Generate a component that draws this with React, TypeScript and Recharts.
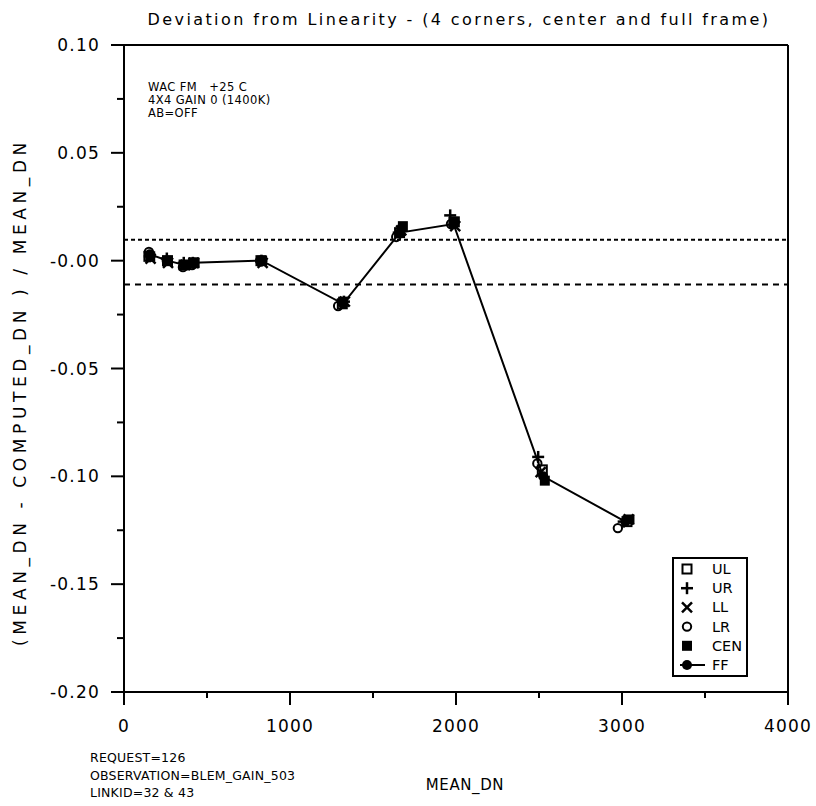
import React from 'react';
import { ScatterChart, Scatter, XAxis, YAxis, ReferenceLine } from 'recharts';

// ---- data ----
const xTicks = [0, 500, 1000, 1500, 2000, 2500, 3000, 3500, 4000];
const xMajorTicks = [0, 1000, 2000, 3000, 4000];
const xTickLabels = ['0', '1000', '2000', '3000', '4000'];
const yTicks = [0.1, 0.075, 0.05, 0.025, 0, -0.025, -0.05, -0.075, -0.1, -0.125, -0.15, -0.175, -0.2];
const yMajorTicks = [0.1, 0.05, 0, -0.05, -0.1, -0.15, -0.2];
const yTickLabels = ['0.10', '0.05', '-0.00', '-0.05', '-0.10', '-0.15', '-0.20'];

const ulX = [150, 262, 362, 420, 825, 1315, 1660, 1990, 2520, 3030];
const ulY = [0.002, 0.0, -0.002, -0.001, 0.0, -0.02, 0.013, 0.018, -0.097, -0.121];
const urX = [155, 258, 360, 415, 828, 1325, 1655, 1965, 2495, 3010];
const urY = [0.002, 0.001, -0.001, -0.001, 0.0, -0.019, 0.013, 0.021, -0.091, -0.121];
const llX = [160, 265, 370, 420, 835, 1330, 1670, 1995, 2510, 3040];
const llY = [0.001, -0.001, -0.002, -0.001, -0.001, -0.019, 0.014, 0.016, -0.098, -0.12];
const lrX = [150, 258, 355, 410, 820, 1290, 1640, 1970, 2490, 2975];
const lrY = [0.004, 0.0, -0.003, -0.002, 0.0, -0.021, 0.011, 0.017, -0.094, -0.124];
const cenX = [158, 263, 368, 425, 832, 1320, 1680, 1985, 2535, 3045];
const cenY = [0.002, 0.0, -0.002, -0.001, 0.0, -0.019, 0.016, 0.018, -0.102, -0.12];
const ffX = [155, 262, 365, 418, 830, 1320, 1662, 1985, 2525, 3020];
const ffY = [0.003, 0.0, -0.002, -0.001, 0.0, -0.02, 0.013, 0.017, -0.1, -0.121];

const upperLimit = 0.0097;
const lowerLimit = -0.011;

const titleText = 'Deviation from Linearity - (4 corners, center and full frame)';
const xLabel = 'MEAN_DN';
const yLabel = '(MEAN_DN - COMPUTED_DN ) / MEAN_DN';
const noteLines = ['WAC FM   +25 C', '4X4 GAIN 0 (1400K)', 'AB=OFF'];
const footLines = ['REQUEST=126', 'OBSERVATION=BLEM_GAIN_503', 'LINKID=32 & 43'];
const legendNames = ['UL', 'UR', 'LL', 'LR', 'CEN', 'FF'];

const zip = (xs: number[], ys: number[]) => xs.map((x, i) => ({ x, y: ys[i] }));

const FONT = '"DejaVu Sans", Verdana, sans-serif';

// ---- shapes ----
const OpenSquare = ({ cx, cy }: any) => (
  <rect x={cx - 4.5} y={cy - 4.5} width={9} height={9} fill="none" stroke="#000" strokeWidth={2} />
);
const Plus = ({ cx, cy }: any) => (
  <g stroke="#000" strokeWidth={2.5}>
    <line x1={cx - 6} x2={cx + 6} y1={cy} y2={cy} />
    <line x1={cx} x2={cx} y1={cy - 6} y2={cy + 6} />
  </g>
);
const Cross = ({ cx, cy }: any) => (
  <g stroke="#000" strokeWidth={2.5}>
    <line x1={cx - 5} x2={cx + 5} y1={cy - 5} y2={cy + 5} />
    <line x1={cx - 5} x2={cx + 5} y1={cy + 5} y2={cy - 5} />
  </g>
);
const OpenCircle = ({ cx, cy }: any) => (
  <circle cx={cx} cy={cy} r={4.2} fill="none" stroke="#000" strokeWidth={2} />
);
const FilledSquare = ({ cx, cy }: any) => (
  <rect x={cx - 5} y={cy - 5} width={10} height={10} fill="#000" />
);
const FilledCircle = ({ cx, cy }: any) => <circle cx={cx} cy={cy} r={5} fill="#000" />;

const YTick = ({ x, y, payload }: any) => {
  const i = yMajorTicks.findIndex((v) => Math.abs(v - payload.value) < 1e-9);
  const major = i >= 0;
  return (
    <g>
      <line x1={x - (major ? 13 : 7)} x2={x} y1={y} y2={y} stroke="#000" strokeWidth={2} />
      {major && (
        <text x={x - 24} y={y} textAnchor="end" dominantBaseline="central" fontFamily={FONT} fontSize={17} letterSpacing={1.2} fill="#000">
          {yTickLabels[i]}
        </text>
      )}
    </g>
  );
};

const XTick = ({ x, y, payload }: any) => {
  const i = xMajorTicks.findIndex((v) => Math.abs(v - payload.value) < 1e-9);
  const major = i >= 0;
  return (
    <g>
      <line x1={x} x2={x} y1={y} y2={y + (major ? 13 : 6)} stroke="#000" strokeWidth={2} />
      {major && (
        <text x={x} y={y + 40} textAnchor="middle" fontFamily={FONT} fontSize={17} letterSpacing={1.2} fill="#000">
          {xTickLabels[i]}
        </text>
      )}
    </g>
  );
};

const legendShapes = [OpenSquare, Plus, Cross, OpenCircle, FilledSquare, FilledCircle];

export default function App() {
  const W = 808;
  const H = 798;
  return (
    <div style={{ position: 'relative', width: 816, height: 806, boxSizing: 'border-box', paddingLeft: 8, paddingTop: 8 }}>
      <style>{'body{margin:0;}'}</style>
      <ScatterChart width={W} height={H} margin={{ top: 37, right: 28, bottom: 74, left: 36 }}>
        <XAxis
          type="number"
          dataKey="x"
          domain={[0, 4000]}
          ticks={xTicks}
          interval={0}
          allowDataOverflow
          height={40}
          tickSize={0}
          tickMargin={0}
          tickLine={false}
          axisLine={{ stroke: '#000', strokeWidth: 2 }}
          tick={<XTick />}
        />
        <YAxis
          type="number"
          dataKey="y"
          domain={[-0.2, 0.1]}
          ticks={yTicks}
          interval={0}
          allowDataOverflow
          width={80}
          tickSize={0}
          tickMargin={0}
          tickLine={false}
          axisLine={{ stroke: '#000', strokeWidth: 2 }}
          tick={<YTick />}
        />
        <ReferenceLine y={0.1} stroke="#000" strokeWidth={2} />
        <ReferenceLine x={4000} stroke="#000" strokeWidth={2} />
        <ReferenceLine y={upperLimit} stroke="#000" strokeWidth={2} strokeDasharray="4 3" />
        <ReferenceLine y={lowerLimit} stroke="#000" strokeWidth={2} strokeDasharray="6 5" />
        <Scatter data={zip(ulX, ulY)} shape={OpenSquare} isAnimationActive={false} />
        <Scatter data={zip(urX, urY)} shape={Plus} isAnimationActive={false} />
        <Scatter data={zip(llX, llY)} shape={Cross} isAnimationActive={false} />
        <Scatter data={zip(lrX, lrY)} shape={OpenCircle} isAnimationActive={false} />
        <Scatter data={zip(cenX, cenY)} shape={FilledSquare} isAnimationActive={false} />
        <Scatter
          data={zip(ffX, ffY)}
          shape={FilledCircle}
          line={{ stroke: '#000', strokeWidth: 2 }}
          lineType="joint"
          isAnimationActive={false}
        />
      </ScatterChart>
      <svg
        width={W}
        height={H}
        style={{ position: 'absolute', left: 8, top: 8, pointerEvents: 'none' }}
        fontFamily={FONT}
      >
        <text x={451} y={17} textAnchor="middle" fontSize={16} letterSpacing={2.4} fill="#000">
          {titleText}
        </text>
        {noteLines.map((t, i) => (
          <text key={t} x={140} y={83 + i * 13} fontSize={11.5} letterSpacing={0.4} fill="#000" style={{ whiteSpace: 'pre' }}>
            {t}
          </text>
        ))}
        {footLines.map((t, i) => (
          <text key={t} x={82} y={754 + i * 17.5} fontSize={12.5} letterSpacing={0.2} fill="#000">
            {t}
          </text>
        ))}
        <text x={457} y={782} textAnchor="middle" fontSize={15} letterSpacing={0.6} fill="#000">
          {xLabel}
        </text>
        <text
          x={12}
          y={384}
          transform="rotate(-90 12 384)"
          textAnchor="middle"
          dominantBaseline="central"
          fontSize={17}
          letterSpacing={4.6}
          fill="#000"
        >
          {yLabel}
        </text>
        <rect x={665} y={550} width={74} height={118} fill="#fff" stroke="#000" strokeWidth={2} />
        {legendNames.map((name, i) => {
          const cy = 561 + i * 19.2;
          const Shape = legendShapes[i];
          return (
            <g key={name}>
              {name === 'FF' && <line x1={672} x2={697} y1={cy} y2={cy} stroke="#000" strokeWidth={2} />}
              <Shape cx={679} cy={cy} />
              <text x={704} y={cy} dominantBaseline="central" fontSize={14.5} fill="#000">
                {name}
              </text>
            </g>
          );
        })}
      </svg>
    </div>
  );
}
